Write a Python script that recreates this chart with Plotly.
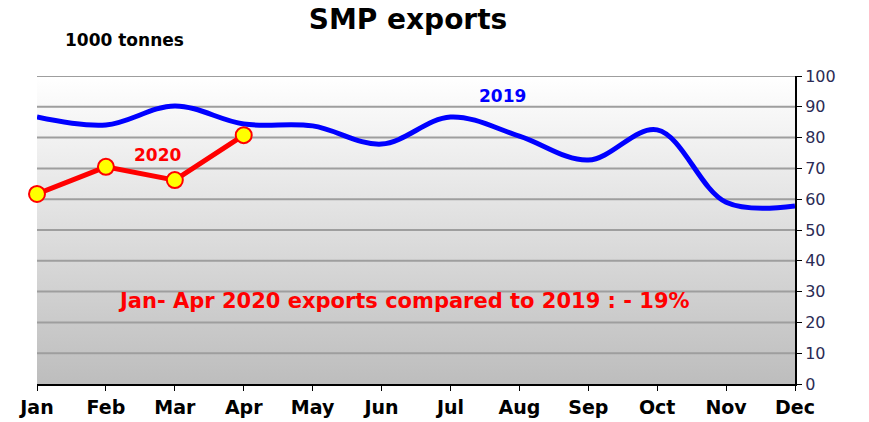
import plotly.graph_objects as go

months = ['Jan', 'Feb', 'Mar', 'Apr', 'May', 'Jun', 'Jul', 'Aug', 'Sep', 'Oct', 'Nov', 'Dec']
exports_2019 = [86.7, 84.1, 90.3, 84.4, 83.8, 77.9, 86.7, 80.5, 72.7, 82.5, 59.0, 57.8]
exports_2020 = [61.7, 70.5, 66.2, 80.8]
y_ticks = [0, 10, 20, 30, 40, 50, 60, 70, 80, 90, 100]

x_all = list(range(len(months)))
font_family = 'Verdana, DejaVu Sans, sans-serif'

fig = go.Figure()

# gradient background of the plot area (white at top, grey at bottom)
fig.add_trace(go.Scatter(
    x=[x_all[0], x_all[-1]], y=[y_ticks[-1], y_ticks[-1]],
    mode='lines', line=dict(width=0),
    fill='tozeroy',
    fillgradient=dict(type='vertical', colorscale=[[0, '#bdbdbd'], [1, '#ffffff']]),
    hoverinfo='skip', showlegend=False,
))

# gridlines drawn over the gradient
for t in y_ticks[1:]:
    fig.add_trace(go.Scatter(
        x=[x_all[0], x_all[-1]], y=[t, t], mode='lines',
        line=dict(color='#9e9e9e', width=2),
        hoverinfo='skip', showlegend=False,
    ))

fig.add_trace(go.Scatter(
    x=x_all, y=exports_2019,
    mode='lines', line=dict(color='#0000ff', width=5, shape='spline', smoothing=1.0),
    name='2019', showlegend=False,
))

fig.add_trace(go.Scatter(
    x=x_all[:len(exports_2020)], y=exports_2020,
    mode='lines+markers',
    line=dict(color='#ff0000', width=5),
    marker=dict(size=16, color='#ffff00', line=dict(color='#ff0000', width=2)),
    cliponaxis=False,
    name='2020', showlegend=False,
))

fig.update_xaxes(
    range=[x_all[0], x_all[-1]],
    tickvals=x_all, ticktext=['<b>%s</b>' % m for m in months],
    showgrid=False, zeroline=False,
    showline=True, linecolor='#000000', linewidth=2,
    ticks='outside', ticklen=5, tickcolor='#000000',
    tickfont=dict(family=font_family, size=19, color='#000000'),
)
fig.update_yaxes(
    range=[0, 100], side='right',
    tickvals=y_ticks,
    showgrid=False, zeroline=False,
    showline=True, linecolor='#000000', linewidth=2,
    ticks='outside', ticklen=5, tickcolor='#000000',
    tickfont=dict(family=font_family, size=16, color='#2b2b55'),
)

fig.add_annotation(x=6.75, y=93.5, text='<b>2019</b>', showarrow=False,
                   font=dict(family=font_family, size=17, color='#0000ff'))
fig.add_annotation(x=1.75, y=74.5, text='<b>2020</b>', showarrow=False,
                   font=dict(family=font_family, size=17, color='#ff0000'))
fig.add_annotation(x=5.33, y=27, text='<b>Jan- Apr 2020 exports compared to 2019 : - 19%</b>',
                   showarrow=False, font=dict(family=font_family, size=21, color='#ff0000'))
fig.add_annotation(x=0.034, y=1.0, xref='paper', yref='paper', yanchor='middle', xanchor='left',
                   yshift=36, text='<b>1000 tonnes</b>', showarrow=False,
                   font=dict(family=font_family, size=17, color='#000000'))

fig.update_layout(
    width=869, height=422,
    margin=dict(l=37, r=74, t=76, b=38, autoexpand=False),
    title=dict(text='<b>SMP exports</b>', x=0.4695, xanchor='center', y=0.955, yanchor='middle',
               font=dict(family=font_family, size=28, color='#000000')),
    plot_bgcolor='#ffffff', paper_bgcolor='#ffffff',
    showlegend=False,
)

fig.write_html('out.html', config={'displayModeBar': False},
               post_script="document.body.style.margin='0';")
